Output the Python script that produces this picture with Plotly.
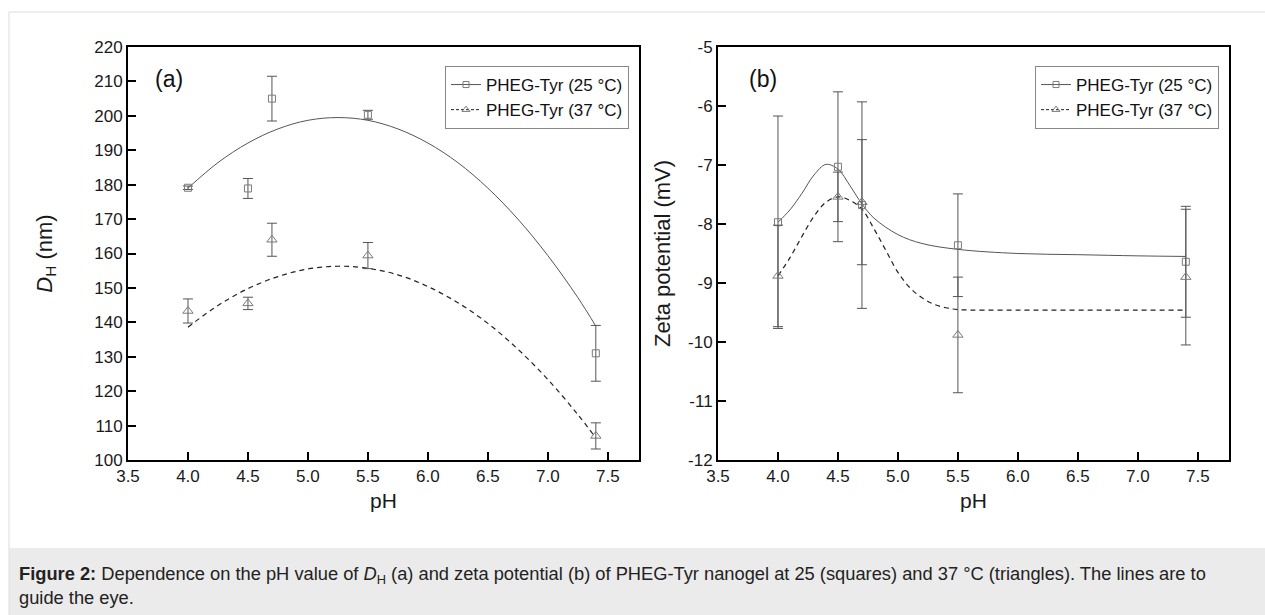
import plotly.graph_objects as go

# ---------------- data ----------------
ph = [4.0, 4.5, 4.7, 5.5, 7.4]

# (a) hydrodynamic diameter, nm
dh_25 = [179.1, 178.9, 205.0, 200.3, 131.0]
dh_25_err = [0.5, 2.9, 6.5, 1.3, 8.1]
dh_37 = [143.3, 145.5, 164.0, 159.4, 107.0]
dh_37_err = [3.5, 1.8, 4.8, 3.8, 3.8]

# guide-to-the-eye curves (a)
curve_a_ph = [4.0, 4.25, 4.5, 4.75, 5.0, 5.25, 5.5, 5.75, 6.0, 6.25, 6.5, 6.75, 7.0, 7.25, 7.4]
curve_a_25 = [179.0, 186.4, 192.1, 196.2, 198.7, 199.5, 198.7, 196.2, 192.1, 186.4, 179.0, 170.0, 159.4, 147.2, 138.9]
curve_a_37 = [138.6, 144.9, 149.8, 153.3, 155.5, 156.3, 155.7, 153.8, 150.4, 145.7, 139.7, 132.2, 123.4, 113.2, 106.4]

# (b) zeta potential, mV
zeta_25 = [-7.97, -7.03, -7.68, -8.36, -8.64]
zeta_25_err = [1.80, 1.27, 1.75, 0.87, 0.94]
zeta_37 = [-8.88, -7.54, -7.63, -9.88, -8.90]
zeta_37_err = [0.86, 0.42, 1.06, 0.98, 1.15]

curve_b25_ph = [4.0, 4.1, 4.2, 4.3, 4.4, 4.5, 4.6, 4.7, 4.8, 5.0, 5.2, 5.5, 6.0, 6.5, 7.0, 7.4]
curve_b25 = [-7.97, -7.76, -7.48, -7.17, -6.99, -7.07, -7.35, -7.66, -7.90, -8.18, -8.33, -8.43, -8.50, -8.52, -8.54, -8.55]
curve_b37_ph = [4.0, 4.1, 4.2, 4.3, 4.4, 4.5, 4.6, 4.7, 4.8, 4.9, 5.0, 5.1, 5.2, 5.3, 5.4, 5.5, 6.0, 7.0, 7.4]
curve_b37 = [-8.88, -8.57, -8.21, -7.87, -7.63, -7.54, -7.60, -7.75, -8.08, -8.45, -8.82, -9.08, -9.25, -9.36, -9.42, -9.45, -9.46, -9.46, -9.46]

x_ticks = [3.5, 4.0, 4.5, 5.0, 5.5, 6.0, 6.5, 7.0, 7.5]
ya_ticks = list(range(100, 221, 10))
yb_ticks = [-12, -11, -10, -9, -8, -7, -6, -5]

names = ["PHEG-Tyr (25 °C)", "PHEG-Tyr (37 °C)"]

# ---------------- styling ----------------
W, H = 1265, 615
FONT = "Liberation Sans, Arial, sans-serif"
LINE25 = "#555555"
LINE37 = "#222222"
MARK = "#7a7a7a"
ERR = "#555555"
TXT = "#1a1a1a"


def px_x(p):
    return p / W


def px_y(p):
    return 1 - p / H


fig = go.Figure()


def add_panel(xa, ya, legend, y25, e25, y37, e37, cx25, cy25, cx37, cy37):
    # curves
    fig.add_trace(go.Scatter(x=cx25, y=cy25, mode="lines", xaxis=xa, yaxis=ya,
                             line=dict(color=LINE25, width=1, shape="spline"),
                             showlegend=False, hoverinfo="skip"))
    fig.add_trace(go.Scatter(x=cx37, y=cy37, mode="lines", xaxis=xa, yaxis=ya,
                             line=dict(color=LINE37, width=1.2, dash="5px,4px", shape="spline"),
                             showlegend=False, hoverinfo="skip"))
    # points with error bars
    fig.add_trace(go.Scatter(x=ph, y=y25, mode="markers", xaxis=xa, yaxis=ya,
                             marker=dict(symbol="square-open", size=7, color=MARK, line=dict(width=1)),
                             error_y=dict(type="data", array=e25, color=ERR, thickness=1, width=5),
                             showlegend=False))
    fig.add_trace(go.Scatter(x=ph, y=y37, mode="markers", xaxis=xa, yaxis=ya,
                             marker=dict(symbol="triangle-up-open", size=9, color=MARK, line=dict(width=1)),
                             error_y=dict(type="data", array=e37, color=ERR, thickness=1, width=5),
                             showlegend=False))
    # legend entries
    fig.add_trace(go.Scatter(x=[None], y=[None], mode="lines+markers", xaxis=xa, yaxis=ya,
                             name=names[0], legend=legend,
                             line=dict(color=LINE25, width=1),
                             marker=dict(symbol="square-open", size=6, color=MARK)))
    fig.add_trace(go.Scatter(x=[None], y=[None], mode="lines+markers", xaxis=xa, yaxis=ya,
                             name=names[1], legend=legend,
                             line=dict(color=LINE37, width=1, dash="3px,2px"),
                             marker=dict(symbol="triangle-up-open", size=7, color=MARK)))


add_panel("x", "y", "legend", dh_25, dh_25_err, dh_37, dh_37_err,
          curve_a_ph, curve_a_25, curve_a_ph, curve_a_37)
add_panel("x2", "y2", "legend2", zeta_25, zeta_25_err, zeta_37, zeta_37_err,
          curve_b25_ph, curve_b25, curve_b37_ph, curve_b37)

axis_common = dict(showline=True, mirror=True, linecolor="black", linewidth=2,
                   ticks="inside", ticklen=8, tickwidth=1.5, tickcolor="black",
                   showgrid=False, zeroline=False, automargin=False,
                   tickfont=dict(family=FONT, size=17, color=TXT))

xcommon = dict(axis_common, range=[3.5, 7.76], tickvals=x_ticks,
               ticktext=[f"{v:.1f}" for v in x_ticks],
               title=dict(text="pH", font=dict(family=FONT, size=21, color=TXT), standoff=8))

y_top, y_bot = 47, 460
leg_common = dict(xanchor="right", yanchor="top",
                  bgcolor="white", bordercolor="#888888", borderwidth=1,
                  font=dict(family=FONT, size=17, color="#111111"), tracegroupgap=0,
                  itemwidth=30)
fig.update_layout(
    width=W, height=H,
    margin=dict(l=0, r=0, t=0, b=0, pad=0, autoexpand=False),
    paper_bgcolor="white", plot_bgcolor="white",
    font=dict(family=FONT, color=TXT),
    xaxis=dict(xcommon, domain=[px_x(128), px_x(639)], anchor="y"),
    xaxis2=dict(xcommon, domain=[px_x(718), px_x(1229)], anchor="y2"),
    yaxis=dict(axis_common, domain=[px_y(y_bot), px_y(y_top)], anchor="x",
               range=[100, 220], tickvals=ya_ticks, ticktext=[str(v) for v in ya_ticks],
               title=dict(text="<i>D</i><sub>H</sub> (nm)", font=dict(family=FONT, size=22, color=TXT),
                          standoff=36)),
    yaxis2=dict(axis_common, domain=[px_y(y_bot), px_y(y_top)], anchor="x2",
                range=[-12, -5], tickvals=yb_ticks, ticktext=[str(v) for v in yb_ticks],
                title=dict(text="Zeta potential (mV)", font=dict(family=FONT, size=22, color=TXT),
                           standoff=11)),
    legend=dict(leg_common, x=px_x(629), y=px_y(66)),
    legend2=dict(leg_common, x=px_x(1219), y=px_y(66)),
    shapes=[
        # caption band
        dict(type="rect", xref="paper", yref="paper", x0=px_x(9), x1=1, y0=0, y1=px_y(548),
             fillcolor="#ebebeb", line=dict(width=0), layer="below"),
        # outer frame lines
        dict(type="line", xref="paper", yref="paper", x0=px_x(9), x1=1, y0=px_y(12), y1=px_y(12),
             line=dict(color="#dddddd", width=1)),
        dict(type="line", xref="paper", yref="paper", x0=px_x(9), x1=px_x(9), y0=px_y(12), y1=0,
             line=dict(color="#dddddd", width=1)),
    ],
    annotations=[
        dict(text="(a)", xref="paper", yref="paper", x=px_x(169), y=px_y(79),
             xanchor="center", yanchor="middle", showarrow=False,
             font=dict(family=FONT, size=23, color="#111111")),
        dict(text="(b)", xref="paper", yref="paper", x=px_x(763), y=px_y(79),
             xanchor="center", yanchor="middle", showarrow=False,
             font=dict(family=FONT, size=23, color="#111111")),
        dict(text="<b>Figure 2:</b> Dependence on the pH value of <i>D</i><sub>H</sub> (a) and zeta potential (b) "
                  "of PHEG-Tyr nanogel at 25 (squares) and 37 °C (triangles). The lines are to<br>guide the eye.",
             xref="paper", yref="paper", x=px_x(17), y=px_y(561), xanchor="left", yanchor="top",
             align="left", showarrow=False,
             font=dict(family=FONT, size=18.3, color="#222222")),
    ],
)

fig.write_html("out.html", config={"displayModeBar": False},
               post_script="document.body.style.margin='0px';document.body.style.overflow='hidden';")
